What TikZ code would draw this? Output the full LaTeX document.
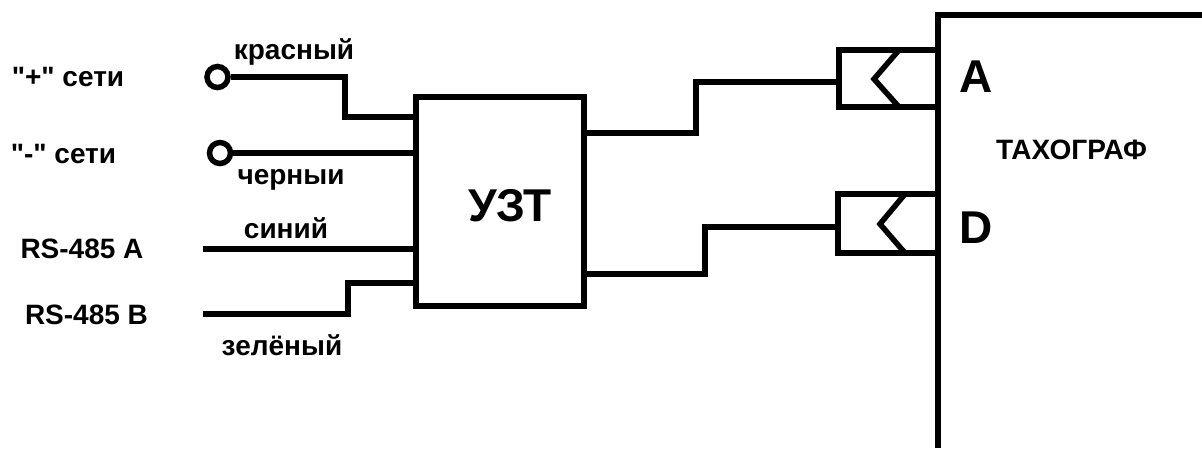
\documentclass[tikz,border=0pt]{standalone}
\usepackage{fontspec}
\newfontfamily\labelfont{Liberation Sans}
\begin{document}
\begin{tikzpicture}[
			x=1pt, y=-1pt,
			wire/.style={line width=5.5pt, draw=black},
			blockbox/.style={line width=6pt, draw=black, fill=white, inner sep=0pt},
			terminal/.style={circle, line width=5.5pt, draw=black, fill=white, inner sep=0pt, minimum size=21pt},
			lbl/.style={anchor=base, font=\labelfont\fontsize{28}{28}\selectfont\bfseries, inner sep=0pt},
			pin/.style={anchor=base, font=\labelfont\fontsize{46}{46}\selectfont\bfseries, inner sep=0pt}
		]
			\useasboundingbox (0,0) rectangle (1202,448);
			\node[blockbox, minimum width=168pt, minimum height=209pt] (uzt) at (500,201.5) {};
			\node[pin] (uztname) at (510,221) {УЗТ};
			\coordinate (tachotop) at (1202,15);
			\coordinate (tachobottom) at (938,448);
			\draw[blockbox, fill=none] (tachotop) -| (tachobottom);
			\node[blockbox, minimum width=99pt, minimum height=57pt] (socketa) at (888.5,78.5) {};
			\node[blockbox, minimum width=100pt, minimum height=59pt] (socketd) at (888,223.5) {};
			% chevrons
			\coordinate (chevatop) at (899,50);
			\coordinate (chevatip) at (874,79);
			\coordinate (chevabottom) at (899,107);
			\coordinate (chevdtop) at (905,194);
			\coordinate (chevdtip) at (880,224);
			\coordinate (chevdbottom) at (905,253);
			\draw[wire] (chevatop) -- (chevatip) -- (chevabottom);
			\draw[wire] (chevdtop) -- (chevdtip) -- (chevdbottom);
			% left side
			\node[terminal] (plusterm) at (217.5,77) {};
			\node[terminal] (minusterm) at (220,153) {};
			\coordinate (rsa) at (203,249);
			\coordinate (rsb) at (203,314);
			\coordinate (plusbend) at (345,100);
			\coordinate (rsbbend) at (348,300);
			\coordinate (plusin) at (414,117);
			\coordinate (minusin) at (414,153);
			\coordinate (rsain) at (414,249);
			\coordinate (rsbin) at (414,283);
			\draw[wire] (plusterm) -| (plusbend) |- (plusin);
			\draw[wire] (minusterm) -- (minusin);
			\draw[wire] (rsa) -- (rsain);
			\draw[wire] (rsb) -| (rsbbend) |- (rsbin);
			% right side
			\coordinate (outa) at (586,133);
			\coordinate (outd) at (586,274);
			\coordinate (benda) at (696,110);
			\coordinate (bendd) at (705,250);
			\coordinate (ina) at (839,82);
			\coordinate (ind) at (838,227);
			\draw[wire] (outa) -| (benda) |- (ina);
			\draw[wire] (outd) -| (bendd) |- (ind);
			% labels
			\node[lbl] (plusname) at (68,86) {"+" сети};
			\node[lbl] (minusname) at (63.5,163) {"-" сети};
			\node[lbl] (rsaname) at (82,258) {RS-485 A};
			\node[lbl] (rsbname) at (86.5,324) {RS-485 B};
			\node[lbl] (red) at (294,59) {красный};
			\node[lbl] (black) at (291,184) {черныи};
			\node[lbl] (blue) at (286,238) {синий};
			\node[lbl] (green) at (282,355) {зелёный};
			\node[pin] (pina) at (976,92) {A};
			\node[pin] (pind) at (976,243) {D};
			\node[lbl] (tachoname) at (1071.5,159.5) {ТАХОГРАФ};
		\end{tikzpicture}
\end{document}
